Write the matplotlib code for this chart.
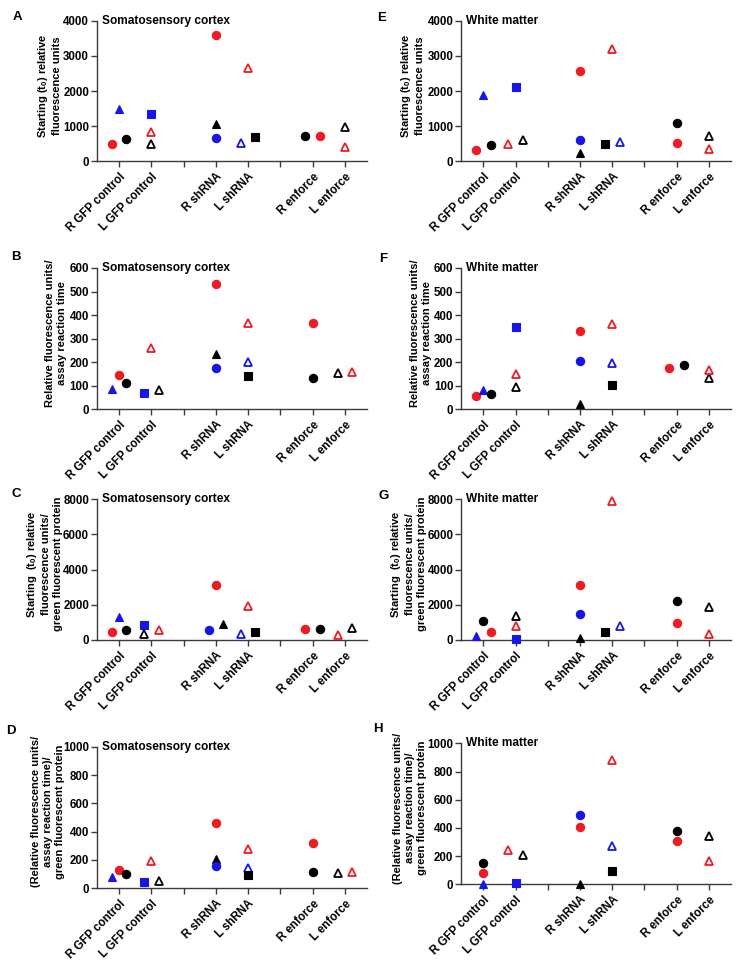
import matplotlib
matplotlib.use("Agg")
import matplotlib.pyplot as plt

plt.rcParams['font.family'] = ['Liberation Sans', 'DejaVu Sans']
plt.rcParams['font.weight'] = 'bold'
plt.rcParams['mathtext.fontset'] = 'custom'
plt.rcParams['mathtext.rm'] = 'Liberation Sans:bold'
plt.rcParams['mathtext.bf'] = 'Liberation Sans:bold'

# ---------------- data ----------------
x_labels = ['R GFP control', 'L GFP control', '', 'R shRNA', 'L shRNA', '', 'R enforce', 'L enforce']
groups = ['R GFP control', 'L GFP control', 'R shRNA', 'L shRNA', 'R enforce', 'L enforce']

# marker identity of each point within each group (same order as values below)
group_markers = {
    'R GFP control': ['red_circle', 'blue_tri', 'black_circle'],
    'L GFP control': ['blue_square', 'red_otri', 'black_otri'],
    'R shRNA': ['red_circle', 'black_tri', 'blue_circle'],
    'L shRNA': ['red_otri', 'blue_otri', 'black_square'],
    'R enforce': ['black_circle', 'red_circle'],
    'L enforce': ['black_otri', 'red_otri'],
}

# values per panel, per group
vals_A = {'R GFP control': [500, 1500, 630], 'L GFP control': [1350, 830, 500],
          'R shRNA': [3600, 1050, 650], 'L shRNA': [2650, 530, 700],
          'R enforce': [710, 720], 'L enforce': [970, 420]}
vals_E = {'R GFP control': [330, 1900, 470], 'L GFP control': [2100, 490, 620],
          'R shRNA': [2560, 230, 620], 'L shRNA': [3200, 560, 490],
          'R enforce': [1100, 530], 'L enforce': [720, 360]}
vals_B = {'R GFP control': [147, 88, 110], 'L GFP control': [70, 260, 82],
          'R shRNA': [530, 235, 177], 'L shRNA': [368, 202, 141],
          'R enforce': [131, 366], 'L enforce': [155, 158]}
vals_F = {'R GFP control': [58, 82, 66], 'L GFP control': [350, 148, 95],
          'R shRNA': [332, 22, 206], 'L shRNA': [362, 196, 103],
          'R enforce': [188, 175], 'L enforce': [134, 167]}
vals_C = {'R GFP control': [430, 1300, 560], 'L GFP control': [880, 590, 320],
          'R shRNA': [3130, 900, 560], 'L shRNA': [1950, 350, 440],
          'R enforce': [620, 620], 'L enforce': [660, 300]}
vals_G = {'R GFP control': [450, 200, 1080], 'L GFP control': [70, 800, 1390],
          'R shRNA': [3150, 100, 1480], 'L shRNA': [7900, 790, 450],
          'R enforce': [2220, 940], 'L enforce': [1900, 340]}
vals_D = {'R GFP control': [130, 78, 102], 'L GFP control': [47, 195, 55],
          'R shRNA': [463, 207, 158], 'L shRNA': [275, 146, 95],
          'R enforce': [118, 320], 'L enforce': [108, 117]}
vals_H = {'R GFP control': [78, 5, 153], 'L GFP control': [12, 240, 210],
          'R shRNA': [407, 5, 494], 'L shRNA': [885, 275, 92],
          'R enforce': [378, 308], 'L enforce': [345, 163]}

# ---------------- layout (scatter spread offsets, in category units) ----------------
L, R, Z = -0.225, 0.225, 0.0
offs = {
    'A': [[L, Z, R], [Z, Z, Z], [Z, Z, Z], [Z, L, R], [L, R], [Z, Z]],
    'E': [[L, Z, R], [Z, L, R], [Z, Z, Z], [Z, R, L], [Z, Z], [Z, Z]],
    'B': [[Z, L, R], [L, Z, R], [Z, Z, Z], [Z, Z, Z], [Z, Z], [L, R]],
    'F': [[L, Z, R], [Z, Z, Z], [Z, Z, Z], [Z, Z, Z], [R, L], [Z, Z]],
    'C': [[L, Z, R], [L, R, L], [Z, R, L], [Z, L, R], [R, L], [R, L]],
    'G': [[R, L, Z], [Z, Z, Z], [Z, Z, Z], [Z, R, L], [Z, Z], [Z, Z]],
    'D': [[Z, L, R], [L, Z, R], [Z, Z, Z], [Z, Z, Z], [Z, Z], [L, R]],
    'H': [[Z, Z, Z], [Z, L, R], [Z, Z, Z], [Z, Z, Z], [Z, Z], [Z, Z]],
}

RED = '#EC1C24'
BLUE = '#1616E6'
BLACK = '#000000'
styles = {
    'red_circle': dict(marker='o', color=RED, mfc=RED, ms=6),
    'black_circle': dict(marker='o', color=BLACK, mfc=BLACK, ms=6),
    'blue_circle': dict(marker='o', color=BLUE, mfc=BLUE, ms=6),
    'blue_tri': dict(marker='^', color=BLUE, mfc=BLUE, ms=6),
    'black_tri': dict(marker='^', color=BLACK, mfc=BLACK, ms=6),
    'blue_square': dict(marker='s', color=BLUE, mfc=BLUE, ms=5.5),
    'black_square': dict(marker='s', color=BLACK, mfc=BLACK, ms=5.5),
    'red_otri': dict(marker='^', color=RED, mfc='white', ms=6, mew=1.3),
    'black_otri': dict(marker='^', color=BLACK, mfc='white', ms=6, mew=1.3),
    'blue_otri': dict(marker='^', color=BLUE, mfc='white', ms=6, mew=1.3),
}

ylab_AE = 'Starting (t$_{0}$) relative\nfluorescence units'
ylab_BF = 'Relative fluorescence units/\nassay reaction time'
ylab_CG = 'Starting  (t$_{0}$) relative\nfluorescence units/\ngreen fluorescent protein'
ylab_DH = '(Relative fluorescence units/\nassay reaction time)/\ngreen fluorescent protein'

W, Hpx = 740, 965
panels = [
    # key, values, title, ylabel, ymax, yticks, (left,top,right,bottom px), letter pos, label x
    ('A', vals_A, 'Somatosensory cortex', ylab_AE, 4000, [0, 1000, 2000, 3000, 4000], (96.7, 20.7, 367.3, 161.3), (17, 17), -0.128),
    ('E', vals_E, 'White matter', ylab_AE, 4000, [0, 1000, 2000, 3000, 4000], (461.1, 20.7, 731.2, 161.3), (382, 18), -0.134),
    ('B', vals_B, 'Somatosensory cortex', ylab_BF, 600, [0, 100, 200, 300, 400, 500, 600], (96.7, 268, 367.3, 409.3), (16, 257), -0.11),
    ('F', vals_F, 'White matter', ylab_BF, 600, [0, 100, 200, 300, 400, 500, 600], (461.1, 268, 731.2, 409.3), (383, 259), -0.109),
    ('C', vals_C, 'Somatosensory cortex', ylab_CG, 8000, [0, 2000, 4000, 6000, 8000], (96.7, 499.3, 367.3, 640), (16.5, 494), -0.125),
    ('G', vals_G, 'White matter', ylab_CG, 8000, [0, 2000, 4000, 6000, 8000], (461.1, 499.3, 731.2, 640), (384, 496), -0.126),
    ('D', vals_D, 'Somatosensory cortex', ylab_DH, 1000, [0, 200, 400, 600, 800, 1000], (96.7, 746.7, 367.3, 888.3), (11, 731), -0.117),
    ('H', vals_H, 'White matter', ylab_DH, 1000, [0, 200, 400, 600, 800, 1000], (461.1, 743.3, 731.2, 884.3), (377.5, 729), -0.127),
]

fig = plt.figure(figsize=(W / 100, Hpx / 100), dpi=100)
fig.patch.set_facecolor('white')

tick_pos = list(range(1, len(x_labels) + 1))
group_pos = [p for p, lab in zip(tick_pos, x_labels) if lab]
AX_COL = '#3a3a3a'

for key, vals, title, ylab, ymax, yticks, (l, t, r, b), (lx, ly), labx in panels:
    ax = fig.add_axes([l / W, 1 - b / Hpx, (r - l) / W, (b - t) / Hpx])
    for gi, g in enumerate(groups):
        for si, (mk, v) in enumerate(zip(group_markers[g], vals[g])):
            st = styles[mk]
            ax.plot([group_pos[gi] + offs[key][gi][si]], [v], linestyle='none',
                    marker=st['marker'], color=st['color'], mfc=st['mfc'],
                    mec=st['color'], ms=st['ms'], mew=st.get('mew', 0.8),
                    clip_on=False, zorder=3)
    ax.set_xlim(0.31, 8.69)
    ax.set_ylim(0, ymax)
    ax.set_yticks(yticks)
    ax.set_xticks(tick_pos)
    ax.set_xticklabels(x_labels, rotation=45, ha='right', va='top',
                       rotation_mode='anchor', fontsize=8.3, fontweight='bold')
    ax.tick_params(axis='both', direction='out', length=4, width=1.0, colors=AX_COL,
                   labelcolor='black', labelsize=8.3)
    ax.tick_params(axis='x', pad=3)
    ax.tick_params(axis='y', pad=1.5)
    for lab in ax.get_yticklabels():
        lab.set_fontweight('bold')
    for s in ['top', 'right']:
        ax.spines[s].set_visible(False)
    for s in ['left', 'bottom']:
        ax.spines[s].set_color(AX_COL)
        ax.spines[s].set_linewidth(1.0)
    ax.set_ylabel(ylab, fontsize=8.0, fontweight='bold', linespacing=1.25)
    ax.yaxis.set_label_coords(labx, 0.54)
    ax.text(0.018, 1.0, title, transform=ax.transAxes, ha='left', va='center',
            fontsize=8.6, fontweight='bold')
    fig.text(lx / W, 1 - ly / Hpx, key, ha='center', va='center',
             fontsize=9.5, fontweight='bold')

fig.savefig('out.png', dpi=100, facecolor='white')
